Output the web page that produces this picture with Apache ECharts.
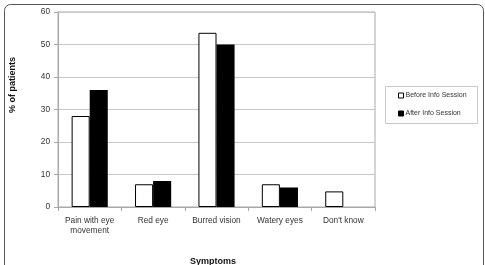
<!DOCTYPE html>
<html><head><meta charset="utf-8">
<script src="https://cdn.jsdelivr.net/npm/echarts@6/dist/echarts.min.js"></script>
<style>html,body{margin:0;padding:0;background:#fff}#c{width:485px;height:265px}</style>
</head><body><div id="c"></div>
<script>
const categories = ["Pain with eye\nmovement", "Red eye", "Burred vision", "Watery eyes", "Don't know"];
const beforeValues = [28, 7, 53.6, 7, 4.8];
const afterValues = [36, 8, 50, 6, 0];
const seriesNames = ["Before Info Session", "After Info Session"];
const yTicks = [0, 10, 20, 30, 40, 50, 60];

const chart = echarts.init(document.getElementById('c'), null, {renderer: 'canvas'});
const font = 'Liberation Sans, Arial, sans-serif';
chart.setOption({
  animation: false,
  backgroundColor: '#fff',
  textStyle: {fontFamily: font},
  grid: {left: 58, right: 110, top: 12, bottom: 58, show: true, borderColor: '#a8a8a8', borderWidth: 1},
  legend: {
    orient: 'vertical', left: 394, top: 88, itemWidth: 5, itemHeight: 5, itemGap: 11,
    icon: 'rect', padding: [4, 4, 4, 4],
    textStyle: {fontSize: 7, color: '#333', padding: [0, 0, 0, -3]},
    data: seriesNames.map(n => ({name: n, itemStyle: {borderColor: '#000', borderWidth: 1}}))
  },
  xAxis: {
    type: 'category', data: categories,
    axisLine: {lineStyle: {color: '#a8a8a8'}},
    axisTick: {show: true, length: 4, lineStyle: {color: '#a8a8a8'}},
    axisLabel: {fontSize: 8.3, color: '#333', margin: 8, lineHeight: 10.5, interval: 0}
  },
  yAxis: {
    type: 'value', min: 0, max: 60, interval: 10,
    axisLine: {show: true, lineStyle: {color: '#a8a8a8'}},
    axisTick: {show: true, length: 4, lineStyle: {color: '#a8a8a8'}},
    splitLine: {lineStyle: {color: '#c8c8c8'}},
    axisLabel: {fontSize: 8.3, color: '#333', margin: 8, formatter: v => yTicks.includes(v) ? String(v) : ''}
  },
  series: [
    {name: seriesNames[0], type: 'bar', data: beforeValues, barGap: '0%', barCategoryGap: '43%',
     itemStyle: {color: '#fff', borderColor: '#000', borderWidth: 1}},
    {name: seriesNames[1], type: 'bar', data: afterValues,
     itemStyle: {color: '#000', borderWidth: 0}}
  ],
  graphic: [
    {type: 'rect', left: 2, top: 2, shape: {width: 479, height: 270, r: 6}, style: {fill: 'none', stroke: '#555', lineWidth: 1}, silent: true},
    {type: 'rect', left: 383, top: 84, shape: {width: 92, height: 37}, style: {fill: 'none', stroke: '#c8c8c8', lineWidth: 1}, silent: true, z: -1},
    {type: 'text', left: 8, top: 57, rotation: Math.PI / 2, style: {text: '% of patients', font: 'bold 9px ' + font, fill: '#111'}},
    {type: 'text', left: 190, top: 257, style: {text: 'Symptoms', font: 'bold 9px ' + font, fill: '#111'}}
  ]
});
</script></body></html>
